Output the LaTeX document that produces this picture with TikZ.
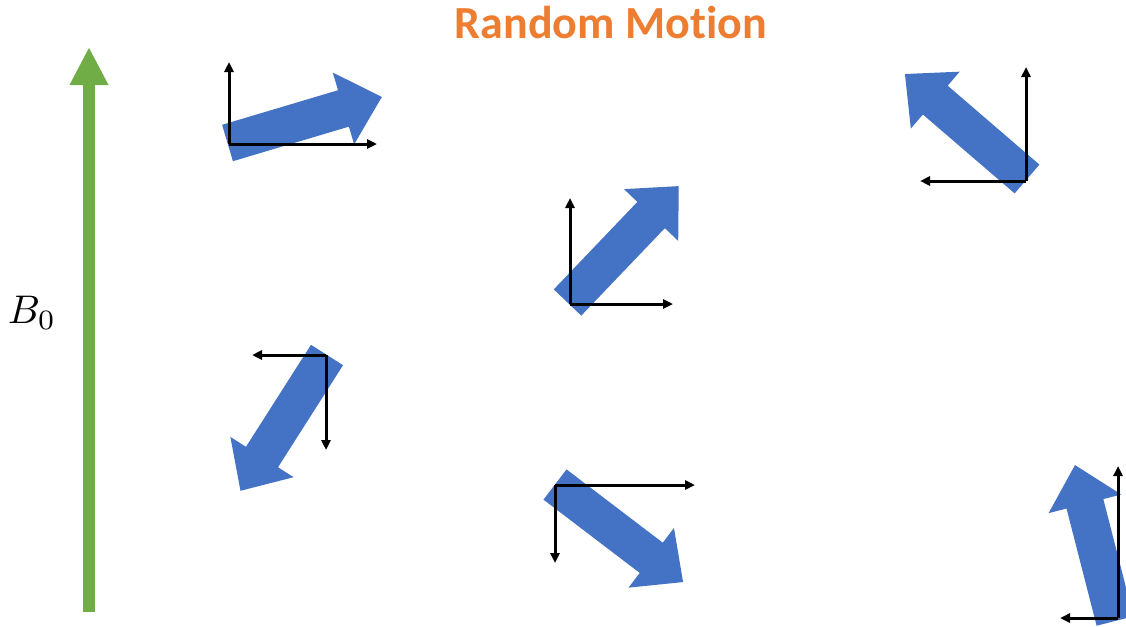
\documentclass[tikz,border=0pt]{standalone}
\usepackage{fontspec}
\newfontfamily\titlefont[RawFeature={-liga;-clig;-rlig;-dlig}]{Carlito}
\usetikzlibrary{arrows.meta}
\definecolor{SpinBlue}{HTML}{4472C4}
\definecolor{FieldGreen}{HTML}{70AD47}
\definecolor{TitleOrange}{HTML}{ED7D31}

\begin{document}
\begin{tikzpicture}[x=1pt,y=-1pt,
  spin/.style={fill=SpinBlue},
  ax/.style={draw=black,line width=3pt,-{Triangle[length=10pt,width=9pt]}},
  field/.style={draw=FieldGreen,line width=12pt,-{Triangle[length=38pt,width=36pt]}}]
  \useasboundingbox (0,0) rectangle (1126,626);
  \clip (0,0) rectangle (1126,626);
  \node[font=\titlefont\bfseries\fontsize{46}{50}\selectfont,text=TitleOrange,anchor=base] (title) at (611,39) {Random Motion};
  % static field
  \coordinate (b0tail) at (89,612);
  \coordinate (b0tip) at (89,47);
  \draw[field] (b0tail) -- (b0tip);
  \node[scale=4,transform shape] (b0) at (32,313) {$B_0$};
  % spins
  \foreach \x/\y/\a in {227.5/143/16.6, 1027/179/139.3, 567.5/302.5/46.3, 327/355/-122.5, 555/484.5/-37.3, 1115/621/104.4}
    \fill[spin,shift={(\x,\y)},rotate=\a] (0,-19) -- (121,-19) -- (121,-37.5) -- (161,0) -- (121,37.5) -- (121,19) -- (0,19) -- cycle;
  % local axes
  \foreach \i/\ox/\oy/\vy/\hx in {1/229/144/62/377, 2/1026/181/67/920, 3/570/304/198/673, 4/326/355/450/252, 5/555/485/563/695, 6/1118/618/466/1060}{
    \coordinate (o\i) at (\ox,\oy);
    \coordinate (v\i) at (\ox,\vy);
    \coordinate (h\i) at (\hx,\oy);
    \draw[ax] (o\i) -- (v\i);
    \draw[ax] (o\i) -- (h\i);
  }
\end{tikzpicture}
\end{document}
